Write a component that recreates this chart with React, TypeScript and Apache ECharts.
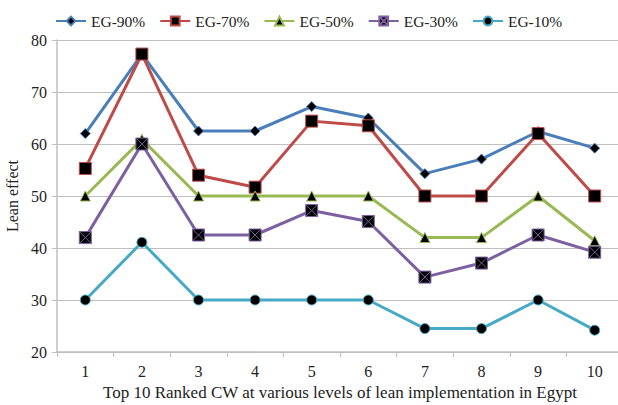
import React, { useEffect, useRef } from "react";
import * as echarts from "echarts";

const categories = ["1", "2", "3", "4", "5", "6", "7", "8", "9", "10"];
const eg90 = [62, 77.3, 62.5, 62.5, 67.2, 65, 54.3, 57.1, 62.4, 59.2];
const eg70 = [55.3, 77.3, 54, 51.7, 64.4, 63.5, 50, 50, 62, 50];
const eg50 = [50, 60.9, 50, 50, 50, 50, 42, 42, 50, 41.4];
const eg30 = [42, 60, 42.5, 42.5, 47.2, 45.1, 34.4, 37.1, 42.5, 39.2];
const eg10 = [30, 41.1, 30, 30, 30, 30, 24.5, 24.5, 30, 24.2];

const FONT = "'Liberation Serif', 'Times New Roman', serif";
const xBox = "path://M0,0 L10,0 L10,10 L0,10 Z M0,0 L10,10 M10,0 L0,10";

function mk(name: string, data: number[], color: string, symbol: string, size: number) {
  return {
    name,
    type: "line",
    data,
    symbol,
    symbolSize: size,
    lineStyle: { color, width: 3 },
    itemStyle: { color: "#000", borderColor: color, borderWidth: 1 },
    emphasis: { disabled: true },
  };
}

export default function App() {
  const ref = useRef<HTMLDivElement>(null);
  useEffect(() => {
    const chart = echarts.init(ref.current!, null, { renderer: "svg" });
    chart.setOption({
      animation: false,
      textStyle: { fontFamily: FONT },
      legend: {
        top: 8,
        left: 50,
        itemWidth: 30,
        itemHeight: 11,
        itemGap: 14,
        textStyle: { fontFamily: FONT, fontSize: 15.5, color: "#222" },
        data: ["EG-90%", "EG-70%", "EG-50%", "EG-30%", "EG-10%"],
      },
      grid: { left: 57, width: 566, top: 40, height: 312, containLabel: false, outerBoundsMode: "none" },
      xAxis: {
        type: "category",
        data: categories,
        boundaryGap: true,
        name: "Top 10 Ranked CW at various levels of lean implementation in Egypt",
        nameLocation: "middle",
        nameGap: 31,
        nameTextStyle: { fontFamily: FONT, fontSize: 17, color: "#222" },
        axisLine: { lineStyle: { color: "#BFBFBF", width: 1.5 } },
        axisTick: { show: true, length: 5, lineStyle: { color: "#BFBFBF" } },
        axisLabel: { fontFamily: FONT, fontSize: 16, color: "#222", margin: 11 },
      },
      yAxis: {
        type: "value",
        min: 20,
        max: 80,
        interval: 10,
        name: "Lean effect",
        nameLocation: "middle",
        nameGap: 30,
        nameTextStyle: { fontFamily: FONT, fontSize: 16, color: "#222" },
        axisLine: { show: true, lineStyle: { color: "#BFBFBF", width: 1.5 } },
        axisTick: { show: true, length: 5, lineStyle: { color: "#BFBFBF" } },
        axisLabel: { fontFamily: FONT, fontSize: 16, color: "#222", margin: 10 },
        splitLine: { lineStyle: { color: "#BFBFBF", width: 1.2 } },
      },
      series: [
        mk("EG-90%", eg90, "#4A7EBB", "diamond", 10),
        mk("EG-70%", eg70, "#BE4B48", "rect", 12),
        mk("EG-50%", eg50, "#98B954", "triangle", 10),
        mk("EG-30%", eg30, "#7D60A0", xBox, 12),
        mk("EG-10%", eg10, "#46AAC5", "circle", 10),
      ],
    });
    return () => chart.dispose();
  }, []);
  return <div ref={ref} style={{ width: 618, height: 405, position: "absolute", left: 0, top: 0 }} />;
}
